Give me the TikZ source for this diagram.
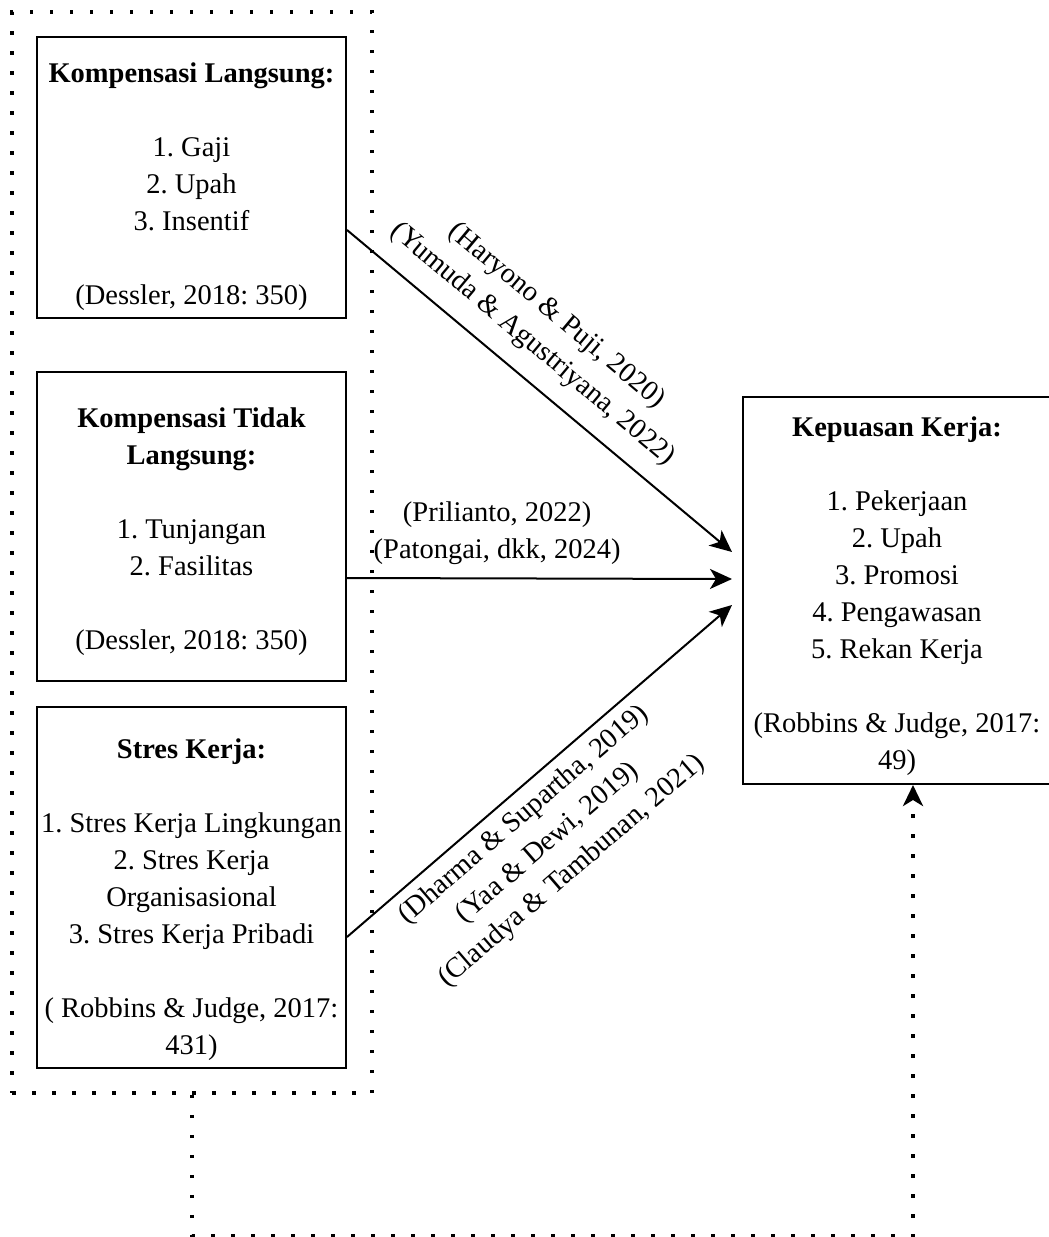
\documentclass[tikz,border=0pt]{standalone}
\usepackage{fontspec}
\setmainfont{Liberation Serif}
\usetikzlibrary{arrows.meta}
\frenchspacing

\begin{document}
\begin{tikzpicture}[x=1pt,y=-1pt,
  box/.style={draw,line width=2pt,inner sep=0pt,align=center,font=\fontsize{28.5}{37}\selectfont},
  grpbox/.style={draw,line width=3.5pt,dash pattern=on 3.5pt off 16.5pt,inner sep=0pt},
  link/.style={line width=2pt,-{Stealth[length=22pt,width=20pt,inset=6pt]}},
  fbline/.style={line width=3.5pt,dash pattern=on 3.5pt off 16.5pt,-{Stealth[length=21pt,width=20pt,inset=6pt]}},
  cite/.style={align=center,font=\fontsize{28.5}{37}\selectfont}]
\useasboundingbox (0,0) rectangle (1049,1237);
% Dotted frame round the three predictors
\node[grpbox,minimum width=360pt,minimum height=1081pt] (grp) at (192,552.5) {};
% Predictor boxes
\node[box,minimum width=309pt,minimum height=281pt] (langsung) at (191.5,177.5)
  {\rule{0pt}{38pt}\textbf{Kompensasi Langsung:}\\[37pt]1. Gaji\\2. Upah\\3. Insentif\\[37pt](Dessler, 2018: 350)};
\node[box,minimum width=309pt,minimum height=309pt] (tdklangsung) at (191.5,526.5)
  {\rule{0pt}{30pt}\textbf{Kompensasi Tidak}\\\textbf{Langsung:}\\[37pt]1. Tunjangan\\2. Fasilitas\\[37pt](Dessler, 2018: 350)};
\node[box,minimum width=309pt,minimum height=361pt] (stres) at (191.5,887.5)
  {\rule{0pt}{44pt}\textbf{Stres Kerja:}\\[37pt]1. Stres Kerja Lingkungan\\2. Stres Kerja\\Organisasional\\3. Stres Kerja Pribadi\\[37pt]( Robbins \& Judge, 2017:\\431)};
% Outcome box
\node[box,minimum width=308pt,minimum height=387pt] (kepuasan) at (897,590.5)
  {\rule{0pt}{32pt}\textbf{Kepuasan Kerja:}\\[37pt]1. Pekerjaan\\2. Upah\\3. Promosi\\4. Pengawasan\\5. Rekan Kerja\\[37pt](Robbins \& Judge, 2017:\\49)};
% Arrows with citations
\draw[link] ([yshift=-52.5pt]langsung.east) -- node[cite,sloped,above=14pt,pos=0.43]
  {(Haryono \& Puji, 2020)\\(Yumuda \& Agustriyana, 2022)} ([xshift=-10pt,yshift=38.5pt]kepuasan.west);
\draw[link] ([yshift=-51.5pt]tdklangsung.east) -- node[cite,above=9pt,pos=0.39]
  {(Prilianto, 2022)\\(Patongai, dkk, 2024)} ([xshift=-10pt,yshift=11.5pt]kepuasan.west);
\draw[link] ([yshift=-49.5pt]stres.east) -- node[cite,sloped,below=6pt,pos=0.42]
  {(Dharma \& Supartha, 2019)\\(Yaa \& Dewi, 2019)\\(Claudya \& Tambunan, 2021)} ([xshift=-10pt,yshift=-14.5pt]kepuasan.west);
% Simultaneous effect
\draw[fbline] (grp.south) -- ++(0,141) -| ([xshift=16pt]kepuasan.south);
\end{tikzpicture}
\end{document}
